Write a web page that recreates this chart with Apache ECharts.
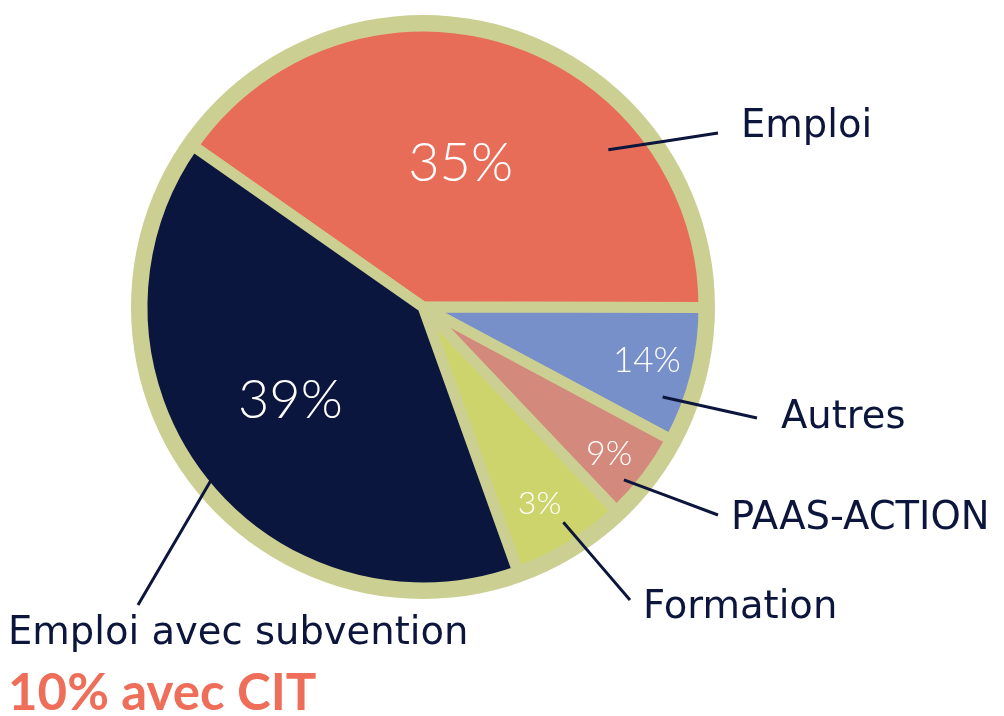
<!DOCTYPE html>
<html>
<head>
<meta charset="utf-8">
<script src="https://cdn.jsdelivr.net/npm/echarts@6/dist/echarts.min.js"></script>
<style>
html,body{margin:0;padding:0;background:#ffffff;}
#chart{width:1004px;height:716px;}
</style>
</head>
<body>
<div id="chart"></div>
<script>
// ---- data ----
const categories = ['Emploi', 'Autres', 'PAAS-ACTION', 'Formation', 'Emploi avec subvention'];
// slice shares as drawn (measured from slice angles in the picture)
const sliceShares = [40.3, 7.8, 5.1, 6.6, 40.2];
// percentages printed on the slices
const percentLabels = ['35%', '14%', '9%', '3%', '39%'];
const subventionNote = '10% avec CIT';
const sliceColors = ['#E86D58', '#7890CA', '#D3897B', '#CDD46B', '#0B163E'];

// ---- layout / style ----
const CX = 423, CY = 307, R_RING = 292, R_PIE = 281;
const OLIVE = '#CCCF92', NAVY = '#0C163D', CORAL = '#EE6E59';
const FONT = 'Lato';
const NAME_FONT = 'DejaVu Sans';
const bigLabel = [true, false, false, false, true];
const pctFont = [54, 35, 34, 32, 54];
const pctShift = [[-10, 7], [-3, -3], [0, 5], [-6, -3], [-7, -2]];
const labelAnchor = [[741, 127], [781, 418], [731, 519], [643, 608], [8, 606]];
const leaderStartPolar = [[40.3, 243], [-20.6, 256], [-40.7, 265], [-56.9, 257], [216, 238]];
const leaderEndOffset = [[-23, 6], [-24, 0], [-13, -4], [-13, -8], [130, -1]];

function polar(deg, r) {
  const a = deg * Math.PI / 180;
  return [CX + r * Math.cos(a), CY - r * Math.sin(a)];
}

const chart = echarts.init(document.getElementById('chart'), null, {renderer: 'canvas'});

const baseData = categories.map((n, i) => ({name: n, value: sliceShares[i]}));
const pieCommon = {
  type: 'pie', silent: true, center: [CX, CY],
  startAngle: 145, clockwise: true, avoidLabelOverlap: false
};
const transparentItem = {color: 'rgba(0,0,0,0)', borderWidth: 0};

const option = {
  animation: false,
  backgroundColor: '#ffffff',
  series: [
    {
      type: 'pie', silent: true, z: 1,
      center: [CX, CY], radius: R_RING,
      data: [{value: 1, itemStyle: {color: OLIVE}}],
      label: {show: false}, labelLine: {show: false}
    },
    {
      ...pieCommon, z: 2, radius: R_PIE,
      itemStyle: {borderColor: OLIVE, borderWidth: 11},
      data: baseData.map((d, i) => ({...d, itemStyle: {color: sliceColors[i]}})),
      label: {show: false}, labelLine: {show: false}
    },
    {
      // inner labels for large slices
      ...pieCommon, z: 3, radius: 310,
      itemStyle: transparentItem,
      data: baseData.map((d, i) => ({...d, label: {show: bigLabel[i], fontSize: pctFont[i]}})),
      label: {
        show: true, position: 'inside', color: '#ffffff',
        fontFamily: FONT, fontWeight: 300,
        formatter: p => percentLabels[p.dataIndex]
      },
      labelLayout: p => ({dx: pctShift[p.dataIndex][0], dy: pctShift[p.dataIndex][1]}),
      labelLine: {show: false}
    },
    {
      // inner labels for small slices
      ...pieCommon, z: 3, radius: [200, 262],
      itemStyle: transparentItem,
      data: baseData.map((d, i) => ({...d, label: {show: !bigLabel[i], fontSize: pctFont[i]}})),
      label: {
        show: true, position: 'inside', color: '#ffffff',
        fontFamily: FONT, fontWeight: 300,
        formatter: p => percentLabels[p.dataIndex]
      },
      labelLayout: p => ({dx: pctShift[p.dataIndex][0], dy: pctShift[p.dataIndex][1]}),
      labelLine: {show: false}
    },
    {
      // category names with leader lines
      ...pieCommon, z: 4, radius: R_PIE,
      itemStyle: transparentItem,
      data: baseData,
      label: {
        show: true, position: 'outside', overflow: 'none',
        fontFamily: NAME_FONT, color: NAVY,
        formatter: p => p.dataIndex === 4
          ? '{a|' + p.name + '}\n{b|' + subventionNote + '}'
          : '{a|' + p.name + '}',
        rich: {
          a: {fontFamily: NAME_FONT, fontSize: 38.5, color: NAVY, lineHeight: 56},
          b: {fontFamily: FONT, fontSize: 51, fontWeight: 'bold', color: CORAL, lineHeight: 64}
        }
      },
      labelLine: {show: true, length: 10, length2: 10, lineStyle: {color: NAVY, width: 3}},
      labelLayout: function (p) {
        const i = p.dataIndex;
        const [x, y] = labelAnchor[i];
        const s = polar(leaderStartPolar[i][0], leaderStartPolar[i][1]);
        const e = [x + leaderEndOffset[i][0], y + leaderEndOffset[i][1]];
        const m = [(s[0] + e[0]) / 2, (s[1] + e[1]) / 2];
        return {
          x: x, y: y, align: 'left',
          verticalAlign: i === 4 ? 'top' : 'middle',
          labelLinePoints: [s, m, e]
        };
      }
    }
  ]
};
chart.setOption(option);
</script>
</body>
</html>
